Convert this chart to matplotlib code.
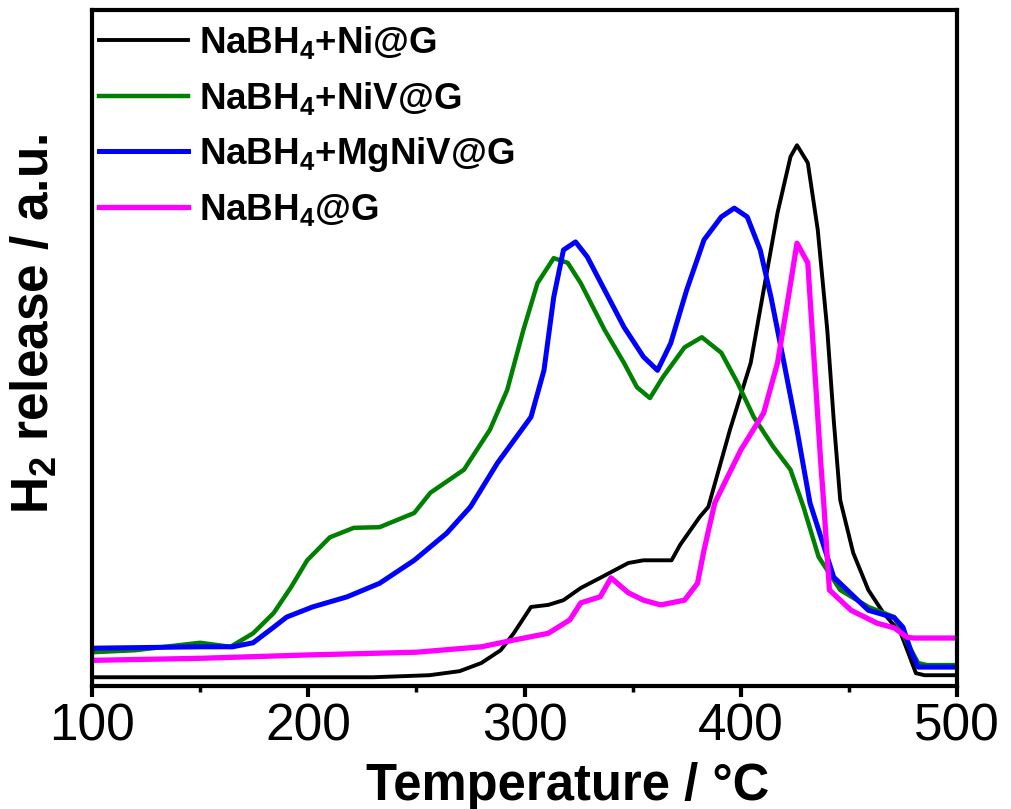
import matplotlib
matplotlib.use('Agg')
import matplotlib.pyplot as plt
from matplotlib.ticker import MultipleLocator

plt.rcParams['font.family'] = ['Liberation Sans', 'DejaVu Sans']
plt.rcParams['mathtext.fontset'] = 'custom'
plt.rcParams['mathtext.rm'] = 'Liberation Sans:bold'
plt.rcParams['mathtext.bf'] = 'Liberation Sans:bold'
plt.rcParams['mathtext.default'] = 'bf'

# NaBH4+Ni@G (black)
t_ni = [100, 150, 200, 230, 256, 270, 280, 289, 295, 303, 311, 318, 326, 335, 348, 355, 368,
        372, 381, 385, 395, 404.6, 410.6, 417, 423, 426, 431, 435.6, 440, 443, 446, 452, 459,
        466, 474, 477, 481, 485, 500]
h_ni = [1.3, 1.3, 1.3, 1.3, 1.6, 2.2, 3.4, 5.3, 7.8, 11.7, 12.0, 12.7, 14.5, 16.0, 18.2, 18.6, 18.6,
        20.9, 25.0, 26.5, 37.9, 47.8, 58.6, 70.0, 78.3, 80.0, 77.4, 67.5, 52.7, 39.3, 27.5, 19.7, 14.2,
        10.8, 7.8, 5.3, 1.9, 1.6, 1.6]

# NaBH4+NiV@G (green)
t_niv = [100, 120, 150, 164, 174.5, 184, 192, 199.5, 210, 221, 233, 249, 256.5, 272, 284, 292,
         299.5, 306, 313.5, 320, 326, 337, 346, 352, 358, 364, 374, 382, 391, 398.6, 406, 415,
         423, 429, 436, 446, 459, 471, 477, 482, 486, 500]
h_niv = [5.0, 5.3, 6.4, 5.8, 7.8, 10.8, 14.6, 18.6, 22.0, 23.4, 23.5, 25.6, 28.6, 32.0, 37.9, 43.8,
         52.7, 59.6, 63.3, 62.6, 59.6, 52.7, 47.8, 44.2, 42.6, 45.7, 50.1, 51.6, 49.3, 44.8, 39.8, 35.4,
         32.0, 26.5, 19.1, 14.2, 11.7, 10.2, 6.4, 3.4, 3.1, 3.1]

# NaBH4+MgNiV@G (blue)
t_mg = [100, 150, 165, 174.5, 184, 190, 202, 218, 233, 249, 264, 275, 287.5, 303, 309, 313.5,
        318, 323.6, 329, 337, 346, 355, 361.5, 367.6, 375, 383, 391, 397, 403, 409, 414, 420,
        426, 432, 443, 459, 471, 475, 479, 482, 500]
h_mg = [5.6, 5.8, 5.8, 6.4, 8.7, 10.2, 11.7, 13.2, 15.2, 18.6, 22.6, 26.5, 33.0, 39.8, 46.7, 57.5,
        64.5, 65.7, 63.5, 58.6, 53.1, 48.7, 46.7, 50.7, 58.6, 66.0, 69.4, 70.7, 69.4, 64.5, 57.5, 47.8,
        37.9, 27.1, 16.1, 11.2, 10.1, 8.7, 4.9, 2.8, 2.8]

# NaBH4@G (magenta)
t_g = [100, 150, 200, 250, 280, 295, 311, 321, 326, 335, 340, 348, 355, 363, 374, 380, 383, 388,
       400, 410.6, 417, 422, 426, 431, 434, 437, 438.5, 441, 451, 463, 471, 477, 480, 500]
h_g = [3.8, 4.1, 4.6, 5.0, 5.8, 6.8, 7.8, 9.8, 12.3, 13.2, 16.0, 13.8, 12.7, 12.0, 12.7, 15.2, 20.1, 27.1,
       34.9, 40.4, 47.8, 57.5, 65.5, 62.6, 47.8, 33.0, 26.5, 14.2, 11.2, 9.3, 8.6, 7.2, 7.1, 7.1]

fig = plt.figure(figsize=(10.11, 8.09), dpi=100)
ax = fig.add_axes([0.091, 0.152, 0.8556, 0.8356])

ax.plot(t_ni, h_ni, color='black', lw=2.8, label='NaBH$_4$+Ni@G')
ax.plot(t_niv, h_niv, color='#008000', lw=3.2, label='NaBH$_4$+NiV@G')
ax.plot(t_mg, h_mg, color='#0000ff', lw=3.6, label='NaBH$_4$+MgNiV@G')
ax.plot(t_g, h_g, color='#ff00ff', lw=3.8, label='NaBH$_4$@G')

ax.set_xlim(100, 500)
ax.set_ylim(0, 100)
ax.xaxis.set_major_locator(MultipleLocator(100))
ax.xaxis.set_minor_locator(MultipleLocator(50))
ax.set_yticks([])
ax.tick_params(axis='x', which='major', direction='out', length=8, width=3,
               labelsize=37, pad=4)
ax.tick_params(axis='x', which='minor', direction='out', length=4, width=2.5)
for s in ax.spines.values():
    s.set_linewidth(3)

ax.set_xlabel('Temperature / \u00b0C', fontsize=36.5, fontweight='bold')
ax.xaxis.set_label_coords(0.55, -0.112)
ax.set_ylabel('H$_2$ release / a.u.', fontsize=37, fontweight='bold')
ax.yaxis.set_label_coords(-0.037, 0.535)

leg = ax.legend(loc='upper left', frameon=False, prop={'size': 26.5, 'weight': 'bold'},
                handlelength=2.4, handletextpad=0.3, labelspacing=0.5,
                borderaxespad=0.0, borderpad=0.2, bbox_to_anchor=(0.0, 0.99))

fig.savefig('out.png', dpi=100)
